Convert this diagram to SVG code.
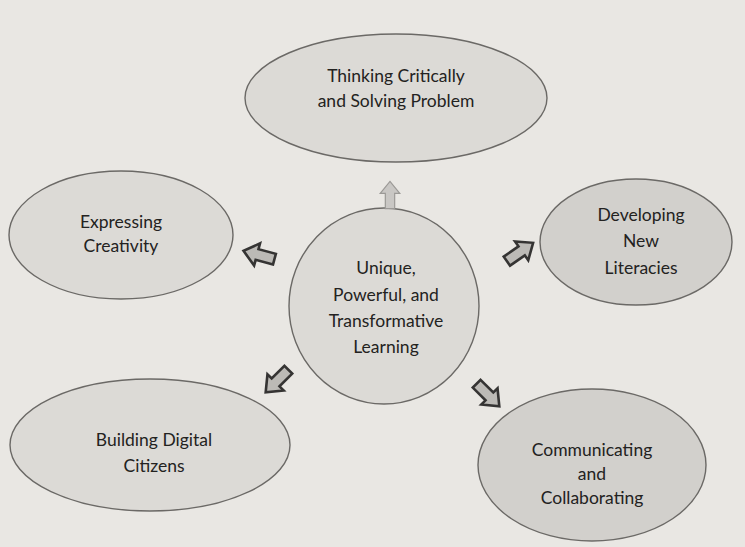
<svg xmlns="http://www.w3.org/2000/svg" width="745" height="547" viewBox="0 0 745 547">
<defs>
<style>
.bg{fill:#e9e7e3}
.node{fill:#dcdad6;stroke:#6b6966;stroke-width:1.4}
.dark{fill:#d2d0cc}
.t{font-family:Lato,"Open Sans","Liberation Sans",sans-serif;font-size:17.5px;fill:#232221;text-anchor:middle}
.arr{fill:#bcbab6;stroke:#353433;stroke-width:2.6;stroke-linejoin:miter}
.arrl{fill:#c9c7c4;stroke:#9b9996;stroke-width:1.4}
</style>
<path id="ah" d="M-16,-5.5 L2,-5.5 L2,-11.5 L16,0 L2,11.5 L2,5.5 L-16,5.5 Z"/>
</defs>
<rect class="bg" x="0" y="0" width="745" height="547"/>
<g id="n-top">
<ellipse class="node" cx="396" cy="98" rx="151" ry="64"/>
<text class="t" x="396" y="82">Thinking Critically</text>
<text class="t" x="396" y="107">and Solving Problem</text>
</g>
<g id="n-left">
<ellipse class="node" cx="121" cy="235" rx="112" ry="64"/>
<text class="t" x="121" y="228">Expressing</text>
<text class="t" x="121" y="252">Creativity</text>
</g>
<g id="n-right">
<ellipse class="node dark" cx="636" cy="242" rx="96" ry="63"/>
<text class="t" x="641" y="221">Developing</text>
<text class="t" x="641" y="247">New</text>
<text class="t" x="641" y="274">Literacies</text>
</g>
<g id="n-center">
<ellipse class="node" cx="384" cy="306" rx="95" ry="98"/>
<text class="t" x="386" y="274">Unique,</text>
<text class="t" x="386" y="301">Powerful, and</text>
<text class="t" x="386" y="327">Transformative</text>
<text class="t" x="386" y="353">Learning</text>
</g>
<g id="n-bl">
<ellipse class="node" cx="150" cy="445" rx="140" ry="66"/>
<text class="t" x="154" y="446">Building Digital</text>
<text class="t" x="154" y="472">Citizens</text>
</g>
<g id="n-br">
<ellipse class="node dark" cx="592" cy="465" rx="114" ry="76"/>
<text class="t" x="592" y="456">Communicating</text>
<text class="t" x="592" y="480">and</text>
<text class="t" x="592" y="504">Collaborating</text>
</g>
<g id="connectors">
<use href="#ah" class="arrl" transform="translate(390,195) rotate(-90) scale(0.85)"/>
<use href="#ah" class="arr" transform="translate(259,255) rotate(-165)"/>
<use href="#ah" class="arr" transform="translate(520,252) rotate(-35)"/>
<use href="#ah" class="arr" transform="translate(277,381) rotate(135)"/>
<use href="#ah" class="arr" transform="translate(488,395) rotate(45)"/>
</g>
</svg>
